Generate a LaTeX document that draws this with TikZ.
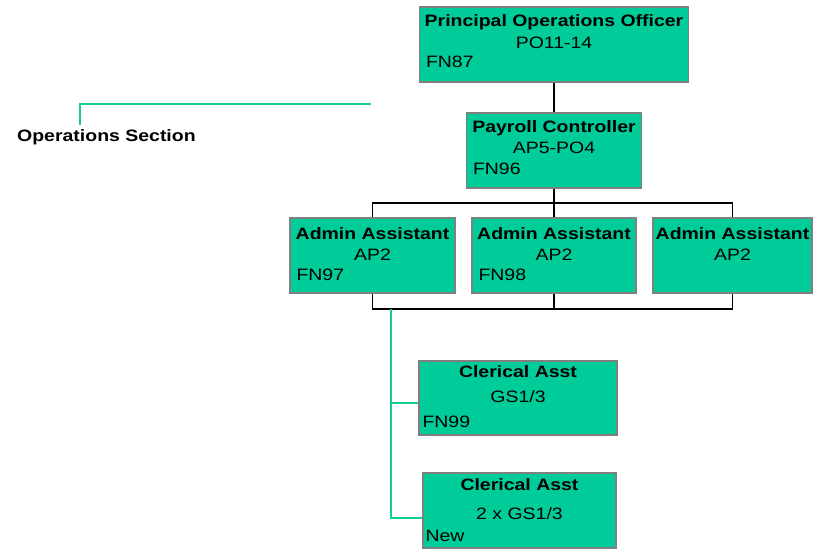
\documentclass[tikz,border=0pt]{standalone}
\usepackage{fontspec}
\setmainfont{Liberation Sans}[FakeStretch=1.18]
\usepackage{tikz}
\usetikzlibrary{calc, positioning}
\definecolor{postgreen}{RGB}{0,204,153}
\definecolor{linkteal}{RGB}{20,204,150}
\definecolor{boxgray}{RGB}{128,128,128}
\newcommand{\postsize}{\fontsize{16.5}{19}\selectfont}
\tikzset{
    postnode/.style = {draw=boxgray, fill=postgreen, rectangle, line width=1.4pt, inner sep=0pt, minimum height=75},
    titletext/.style = {draw=none, fill=none, inner sep=0pt, anchor=base, font=\bfseries\postsize},
    gradetext/.style = {draw=none, fill=none, inner sep=0pt, anchor=base, font=\postsize},
    fntext/.style = {draw=none, fill=none, inner sep=0pt, anchor=base west, font=\postsize},
    connect/.style = {black, line width=1.3pt},
    teallink/.style = {linkteal, line width=1.3pt}
}
\begin{document}
\begin{tikzpicture}[x=1pt, y=-1pt]
    \useasboundingbox (0,0) rectangle (813,556);

    % section label
    \node [name=OPS, fntext, font=\bfseries\postsize] at (17,142) {Operations Section};
    \coordinate (OPSend) at (371,104);
    \coordinate (OPStick) at (80,125);
    \draw [teallink] (OPSend) -| (OPStick);

    \node [name=POO, postnode, minimum width=269] at (554,44.5) {};
    \node [name=POOtitle, titletext] at ([yshift=-20pt]POO.north) {Principal Operations Officer};
    \node [name=POOgrade, gradetext] at ([yshift=-42pt]POO.north) {PO11-14};
    \node [name=POOfn, fntext] at ([xshift=7pt, yshift=-61pt]POO.north west) {FN87};

    \node [name=PC, postnode, minimum width=175] at (554,150.5) {};
    \node [name=PCtitle, titletext] at ([yshift=-20pt]PC.north) {Payroll Controller};
    \node [name=PCgrade, gradetext] at ([yshift=-41pt]PC.north) {AP5-PO4};
    \node [name=PCfn, fntext] at ([xshift=7pt, yshift=-62pt]PC.north west) {FN96};
    \draw [connect] (POO) -- (PC);

    \node [name=AA1, postnode, minimum width=165] at (372.5,255.5) {};
    \node [name=AA1title, titletext] at ([yshift=-22pt]AA1.north) {Admin Assistant};
    \node [name=AA1grade, gradetext] at ([yshift=-43pt]AA1.north) {AP2};
    \node [name=AA1fn, fntext] at ([xshift=7pt, yshift=-63pt]AA1.north west) {FN97};

    \node [name=AA2, postnode, minimum width=164] at (554,255.5) {};
    \node [name=AA2title, titletext] at ([yshift=-22pt]AA2.north) {Admin Assistant};
    \node [name=AA2grade, gradetext] at ([yshift=-43pt]AA2.north) {AP2};
    \node [name=AA2fn, fntext] at ([xshift=7pt, yshift=-63pt]AA2.north west) {FN98};

    \node [name=AA3, postnode, minimum width=159] at (732.5,255.5) {};
    \node [name=AA3title, titletext] at ([yshift=-22pt]AA3.north) {Admin Assistant};
    \node [name=AA3grade, gradetext] at ([yshift=-43pt]AA3.north) {AP2};

    % upper and lower bus
    \coordinate (TOPBUS) at (554,203);
    \draw [connect] (PC.south) -- (TOPBUS);
    \draw [connect] (AA1.north) |- (TOPBUS) -| (AA3.north);
    \draw [connect] (TOPBUS) -- (AA2.north);
    \coordinate (LOWBUS) at (554,309);
    \draw [connect] (AA1.south) |- (LOWBUS) -| (AA3.south);
    \draw [connect] (AA2.south) -- (LOWBUS);

    \node [name=CA1, postnode, minimum width=198, minimum height=74] at (518,398) {};
    \node [name=CA1title, titletext] at ([yshift=-17pt]CA1.north) {Clerical Asst};
    \node [name=CA1grade, gradetext] at ([yshift=-42pt]CA1.north) {GS1/3};
    \node [name=CA1fn, fntext] at ([xshift=4pt, yshift=-67pt]CA1.north west) {FN99};

    \node [name=CA2, postnode, minimum width=193] at (519.5,510.5) {};
    \node [name=CA2title, titletext] at ([yshift=-18pt]CA2.north) {Clerical Asst};
    \node [name=CA2grade, gradetext] at ([yshift=-47pt]CA2.north) {2 x GS1/3};
    \node [name=CA2fn, fntext] at ([xshift=3pt, yshift=-69pt]CA2.north west) {New};

    % clerical branch
    \coordinate (SPLIT) at (391,309);
    \coordinate (CA1in) at ([yshift=-5pt]CA1.west);
    \coordinate (CA2in) at ([yshift=-7.5pt]CA2.west);
    \draw [teallink] (SPLIT) |- (CA2in);
    \draw [teallink] (SPLIT |- CA1in) -- (CA1in);
\end{tikzpicture}
\end{document}
